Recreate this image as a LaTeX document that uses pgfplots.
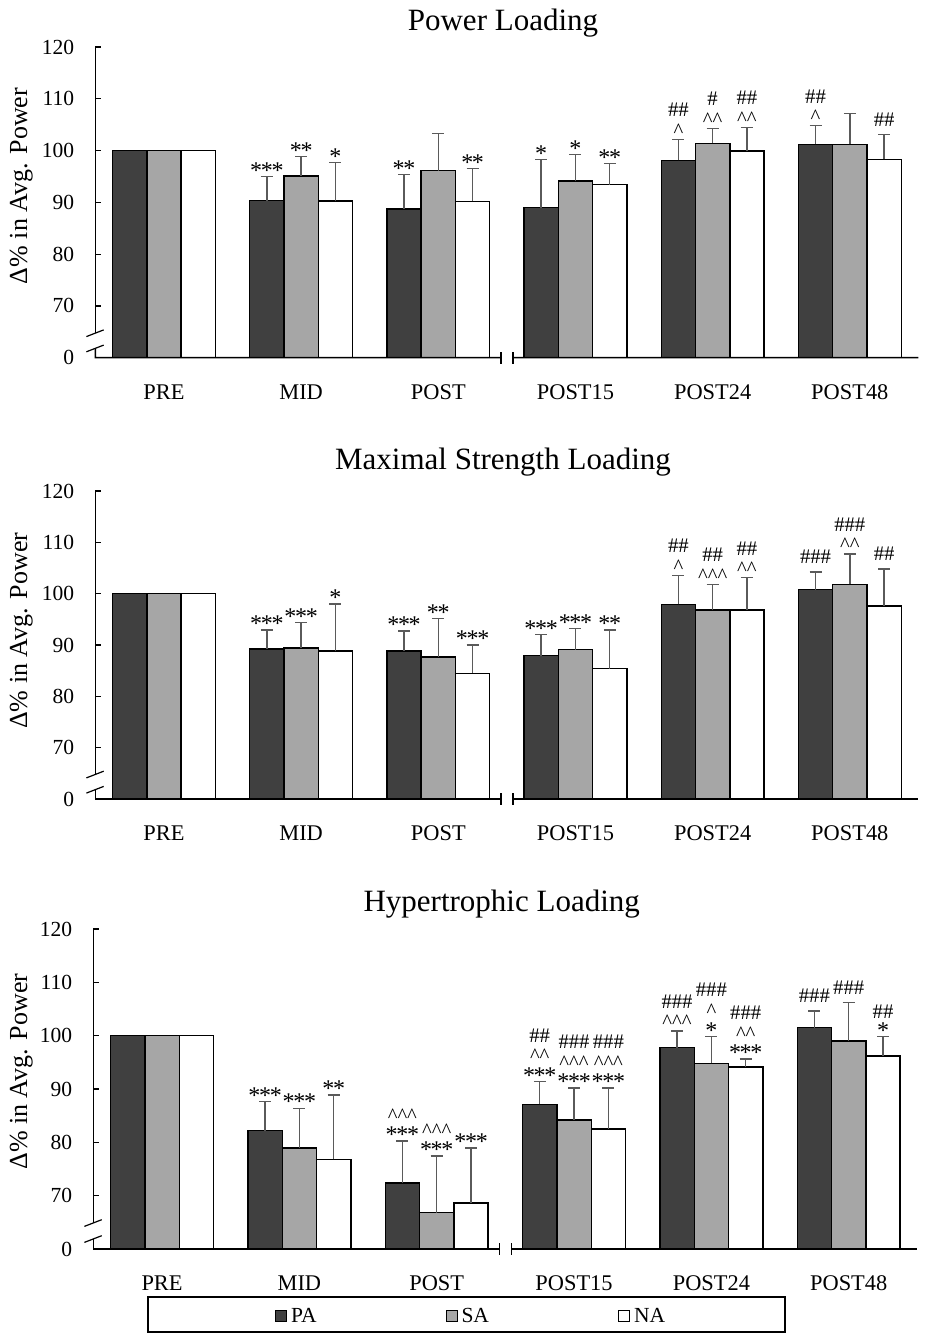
\documentclass[border=0pt]{standalone}
\usepackage{pgfplots}
\pgfplotsset{compat=1.18}
\usepackage{pgfplotstable}
\usepackage{fontspec}
\setmainfont{Liberation Serif}
\usetikzlibrary{calc}

\definecolor{cPA}{HTML}{404040}
\definecolor{cSA}{HTML}{A6A6A6}
\definecolor{cNA}{HTML}{FFFFFF}
\definecolor{cerr}{HTML}{5A5A5A}

\newcommand{\fs}[2]{\fontsize{#1pt}{#2pt}\selectfont}
\newcommand{\ca}{\textasciicircum}
\newcommand{\s}{\makebox[10.7pt]{\fontsize{24pt}{24pt}\selectfont *}}

% x: 0 PRE, 1 MID, 2 POST, 3 POST15, 4 POST24, 5 POST48
\pgfplotstableread{
x   pa     paerr  sa     saerr  na     naerr
0   100    0      100    0      100    0
}\tpre
\pgfplotstableread{
x   pa     paerr  sa     saerr  na     naerr
1   90.3   4.7    95.1   3.8    90.25  7.45
2   88.7   6.7    96.1   7.2    90.2   6.3
3   89.0   9.3    94.1   5.1    93.4   4.1
4   98.1   4.0    101.4  2.9    99.9   4.6
5   101.2  3.6    101.2  6.0    98.3   4.8
}\tpower
\pgfplotstableread{
x   pa     paerr  sa     saerr  na     naerr
1   89.2   3.7    89.4   5.0    88.8   9.2
2   88.8   3.9    87.7   7.5    84.5   5.5
3   87.9   4.1    89.1   4.1    85.4   7.5
4   97.9   5.6    96.8   5.0    96.8   6.3
5   100.8  3.4    101.8  5.9    97.6   7.2
}\tmax
\pgfplotstableread{
x   pa     paerr  sa     saerr  na     naerr
1   82.2   5.5    78.9   7.5    76.8   12.1
2   72.4   7.85   66.8   10.6   68.6   10.3
3   87.1   4.3    84.2   6.0    82.5   7.7
4   97.75  3.15   94.8   5.1    94.1   1.5
5   101.5  3.1    99.0   7.2    96.2   3.6
}\thyp

% #1 = yshift: -2pt when the last line is asterisks, 2pt for carets, 8pt for hashes
\newcommand{\ann}[4][-2pt]{\node[anchor=south, inner sep=0pt, yshift=#1, align=center, font=\fs{20.7}{20.5}] at (axis cs:#2,#3) {#4};}

\pgfplotsset{
  panel/.style={
    scale only axis, width=823pt, height=310.7pt,
    xmin=-0.5, xmax=5.5, ymin=60, ymax=120,
    axis line style={draw=none},
    xtick={0,...,5}, xticklabels={PRE,MID,POST,POST15,POST24,POST48},
    xtick style={draw=none},
    ytick={60,70,...,120}, yticklabels={0,70,80,90,100,110,120},
    ytick pos=left, tick align=inside,
    major tick length=6pt,
    ytick style={line width=1.2pt, black},
    xticklabel style={font=\fs{22.4}{26}, anchor=base, yshift=-35.5pt},
    yticklabel style={font=\fs{21.5}{25}, anchor=east, inner sep=0pt, xshift=-21pt},
    /pgf/number format/assume math mode=true,
    ybar, bar width=34.3pt,
    every axis plot/.append style={draw=black, line width=1.4pt},
    error bars/y dir=plus, error bars/y explicit,
    error bars/error bar style={cerr, line width=1.4pt},
    error bars/error mark options={rotate=90, mark size=6pt, cerr, line width=1.4pt},
  },
  legsq/.style={legend image code/.code={\draw[##1, line width=1pt] (0pt,-5.5pt) rectangle (11pt,5.5pt);}},
}

\newcommand{\bars}[1]{%
  \addplot[fill=cPA, bar shift=-34.3pt, forget plot, error bars/y dir=none] table[x=x, y=pa]{\tpre};
  \addplot[fill=cSA, bar shift=0pt, forget plot, error bars/y dir=none] table[x=x, y=sa]{\tpre};
  \addplot[fill=cNA, bar shift=34.3pt, forget plot, error bars/y dir=none] table[x=x, y=na]{\tpre};
  \addplot[fill=cPA, bar shift=-34.3pt, legsq] table[x=x, y=pa, y error=paerr]{#1};
  \addplot[fill=cSA, bar shift=0pt, legsq] table[x=x, y=sa, y error=saerr]{#1};
  \addplot[fill=cNA, bar shift=34.3pt, legsq] table[x=x, y=na, y error=naerr]{#1};
}

\newcommand{\axframe}[3]{% name, upper break (pt above bottom), lower break
  \draw[line width=1.5pt] (#1.north west) -- ($(#1.south west)+(0,#2)$);
  \draw[line width=1.5pt] ($(#1.south west)+(0,#3)$) -- (#1.south west)
     -- ($(#1.south west)!0.5!(#1.south east)+(-6pt,0)$);
  \draw[line width=1.5pt] ($(#1.south west)!0.5!(#1.south east)+(6pt,0)$) -- (#1.south east);
  \draw[line width=1.2pt] ($(#1.south west)!0.5!(#1.south east)+(-6pt,-6pt)$) -- ++(0,12pt);
  \draw[line width=1.2pt] ($(#1.south west)!0.5!(#1.south east)+(6pt,-6pt)$) -- ++(0,12pt);
  \draw[line width=1.2pt] ($(#1.south west)+(-9pt,#2-3.4pt)$) -- ++(17.3pt,6.7pt);
  \draw[line width=1.2pt] ($(#1.south west)+(-9pt,#3-3.4pt)$) -- ++(17.3pt,6.7pt);
}

\begin{document}
\begin{tikzpicture}
\useasboundingbox (0,0) rectangle (927pt,1339pt);

% ---------------- Panel 1
\begin{axis}[panel, name=p1, at={(95.4pt,981.3pt)}, anchor=south west, height=310.7pt]
\bars{\tpower}
\ann{0.75}{95.0}{\s\s\s}
\ann{1}{98.9}{\s\s}
\ann{1.25}{97.7}{\s}
\ann{1.75}{95.4}{\s\s}
\ann{2.25}{96.5}{\s\s}
\ann{2.75}{98.3}{\s}
\ann{3}{99.2}{\s}
\ann{3.25}{97.5}{\s\s}
\ann[2pt]{3.75}{102.1}{\#\#\\\ca}
\ann[2pt]{4}{104.3}{\#\\\ca\ca}
\ann[2pt]{4.25}{104.5}{\#\#\\\ca\ca}
\ann[2pt]{4.75}{104.8}{\#\#\\\ca}
\ann[8pt]{5.25}{103.1}{\#\#}
\end{axis}
\axframe{p1}{24.5pt}{9.3pt}
\node[font=\fs{31}{35}, anchor=base] at (503pt,1308.3pt) {Power Loading};
\node[rotate=90, anchor=base, font=\fs{26}{30}] at (27pt,1153pt) {Δ\% in Avg. Power};

% ---------------- Panel 2
\begin{axis}[panel, name=p2, at={(95.4pt,540pt)}, anchor=south west, height=308pt]
\bars{\tmax}
\ann{0.75}{92.9}{\s\s\s}
\ann{1}{94.4}{\s\s\s}
\ann{1.25}{98.0}{\s}
\ann{1.75}{92.7}{\s\s\s}
\ann{2}{95.2}{\s\s}
\ann{2.25}{90.0}{\s\s\s}
\ann{2.75}{92.0}{\s\s\s}
\ann{3}{93.2}{\s\s\s}
\ann{3.25}{92.9}{\s\s}
\ann[2pt]{3.75}{103.5}{\#\#\\\ca}
\ann[2pt]{4}{101.8}{\#\#\\\ca\ca\ca}
\ann[2pt]{4.25}{103.1}{\#\#\\\ca\ca}
\ann[8pt]{4.75}{104.2}{\#\#\#}
\ann[2pt]{5}{107.7}{\#\#\#\\\ca\ca}
\ann[8pt]{5.25}{104.8}{\#\#}
\end{axis}
\axframe{p2}{24.5pt}{9.3pt}
\node[font=\fs{31}{35}, anchor=base] at (503pt,869.7pt) {Maximal Strength Loading};
\node[rotate=90, anchor=base, font=\fs{26}{30}] at (27pt,708.2pt) {Δ\% in Avg. Power};

% ---------------- Panel 3
\begin{axis}[panel, name=p3, at={(93.4pt,90pt)}, anchor=south west, width=824pt, height=320pt,
  legend columns=3,
  legend style={draw=none, fill=none, inner sep=0pt, outer sep=0pt,
    at={(axis description cs:0.2204,-0.209)}, anchor=west,
    font=\fs{21.5}{25},
    /tikz/every odd column/.append style={column sep=4pt},
    /tikz/every even column/.append style={column sep=129pt},
    nodes={inner sep=0pt}},
]
\bars{\thyp}
\ann{0.75}{87.7}{\s\s\s}
\ann{1}{86.4}{\s\s\s}
\ann{1.25}{88.9}{\s\s}
\ann{1.75}{80.25}{\ca\ca\ca\\\s\s\s}
\ann{2}{77.4}{\ca\ca\ca\\\s\s\s}
\ann{2.25}{78.9}{\s\s\s}
\ann{2.75}{91.4}{\#\#\\\ca\ca\\\s\s\s}
\ann{3}{90.2}{\#\#\#\\\ca\ca\ca\\\s\s\s}
\ann{3.25}{90.2}{\#\#\#\\\ca\ca\ca\\\s\s\s}
\ann[2pt]{3.75}{100.9}{\#\#\#\\\ca\ca\ca}
\ann{4}{99.9}{\#\#\#\\\ca\\\s}
\ann{4.25}{95.6}{\#\#\#\\\ca\ca\\\s\s\s}
\ann[8pt]{4.75}{104.6}{\#\#\#}
\ann[8pt]{5}{106.2}{\#\#\#}
\ann{5.25}{99.8}{\#\#\\\s}
\legend{PA,SA,NA}
\end{axis}
\axframe{p3}{26pt}{10pt}
\node[font=\fs{31}{35}, anchor=base] at (501.7pt,427.3pt) {Hypertrophic Loading};
\node[rotate=90, anchor=base, font=\fs{26}{30}] at (27pt,267.4pt) {Δ\% in Avg. Power};

\draw[line width=2pt] (148pt,7pt) rectangle (785pt,42pt);
\end{tikzpicture}
\end{document}
